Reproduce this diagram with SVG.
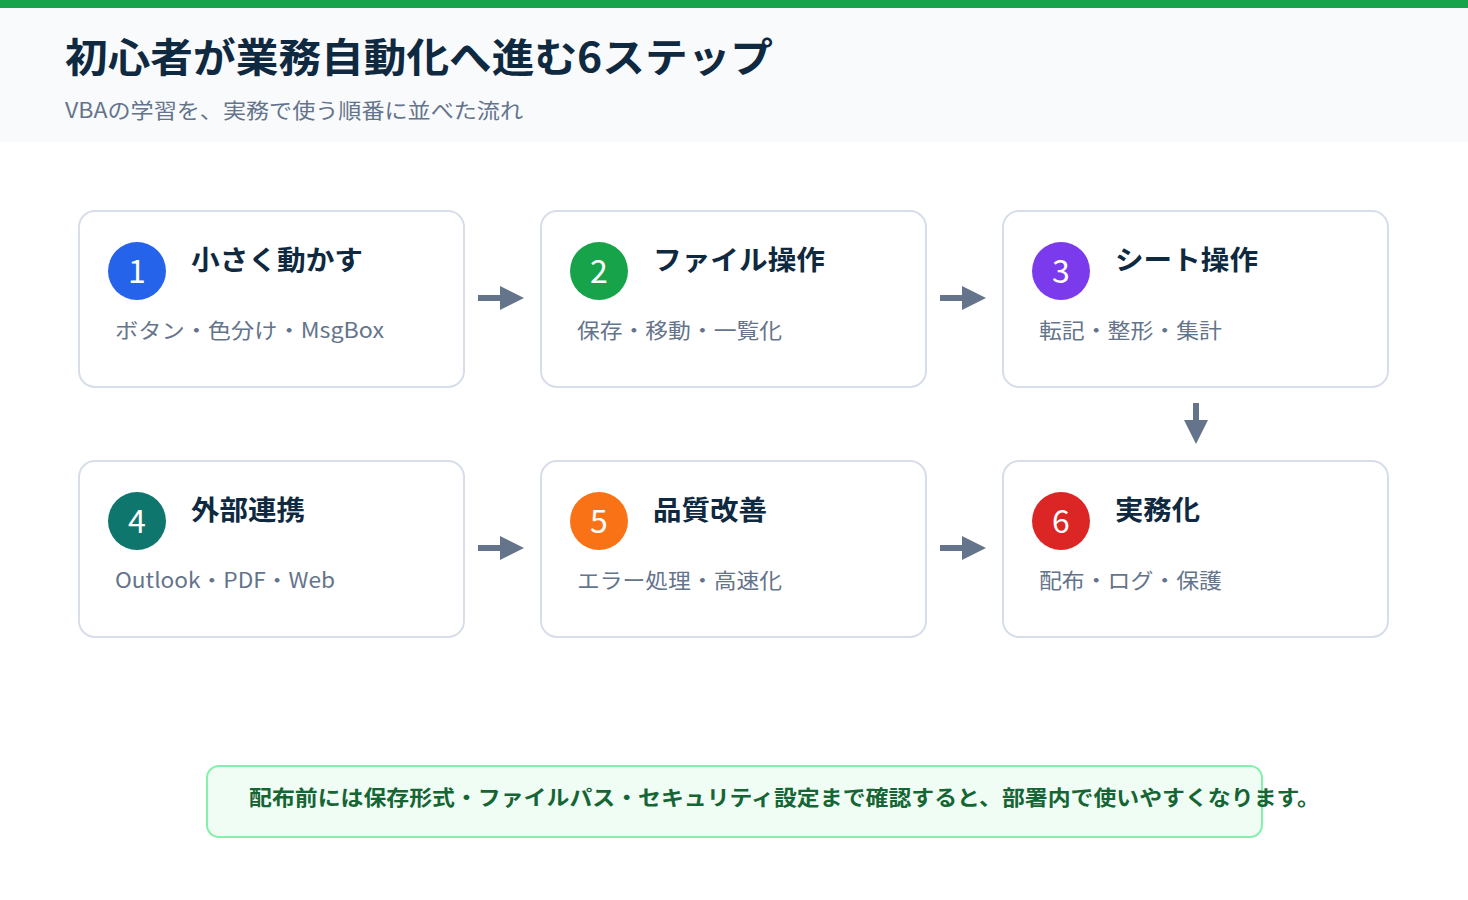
<svg xmlns="http://www.w3.org/2000/svg" width="1468" height="900" viewBox="0 0 1468 900">
<style>
text{font-family:"Noto Sans CJK JP","Noto Sans",sans-serif}
.box{fill:#fff;stroke:#d8dee9;stroke-width:2}
.t{font-size:27px;font-weight:700;fill:#0f2940}
.s{font-size:21px;fill:#64748b}
.n{font-size:32px;fill:#fff;text-anchor:middle}
.c{stroke:#64748b;stroke-width:6;fill:none}
</style>
<defs><marker id="a" markerWidth="4" markerHeight="4" refX="2" refY="2" orient="auto"><path d="M0,0L4,2L0,4z" fill="#64748b"/></marker></defs>
<rect width="1468" height="900" fill="#fff"/>
<rect width="1468" height="142" fill="#f8fafc"/>
<rect width="1468" height="8" fill="#16a34a"/>
<text x="65" y="72" font-size="40" font-weight="700" fill="#0f2940" textLength="708" lengthAdjust="spacingAndGlyphs">初心者が業務自動化へ進む6ステップ</text>
<text x="65" y="118" class="s" textLength="458" lengthAdjust="spacingAndGlyphs">VBAの学習を、実務で使う順番に並べた流れ</text>
<g id="connectors">
<path class="c" d="M478,298H512" marker-end="url(#a)"/>
<path class="c" d="M940,298H974" marker-end="url(#a)"/>
<path class="c" d="M1196,403V432" marker-end="url(#a)"/>
<path class="c" d="M478,548H512" marker-end="url(#a)"/>
<path class="c" d="M940,548H974" marker-end="url(#a)"/>
</g>
<g id="n1"><rect class="box" x="79" y="211" width="385" height="176" rx="16"/><circle cx="137" cy="271" r="29" fill="#2563eb"/><text class="n" x="137" y="283">1</text><text class="t" x="191" y="270" textLength="172" lengthAdjust="spacingAndGlyphs">小さく動かす</text><text class="s" x="115" y="338" textLength="269" lengthAdjust="spacingAndGlyphs">ボタン・色分け・MsgBox</text></g>
<g id="n2"><rect class="box" x="541" y="211" width="385" height="176" rx="16"/><circle cx="599" cy="271" r="29" fill="#16a34a"/><text class="n" x="599" y="283">2</text><text class="t" x="653" y="270" textLength="172" lengthAdjust="spacingAndGlyphs">ファイル操作</text><text class="s" x="577" y="338" textLength="205" lengthAdjust="spacingAndGlyphs">保存・移動・一覧化</text></g>
<g id="n3"><rect class="box" x="1003" y="211" width="385" height="176" rx="16"/><circle cx="1061" cy="271" r="29" fill="#7c3aed"/><text class="n" x="1061" y="283">3</text><text class="t" x="1115" y="270" textLength="143" lengthAdjust="spacingAndGlyphs">シート操作</text><text class="s" x="1039" y="338" textLength="183" lengthAdjust="spacingAndGlyphs">転記・整形・集計</text></g>
<g id="n4"><rect class="box" x="79" y="461" width="385" height="176" rx="16"/><circle cx="137" cy="521" r="29" fill="#0f766e"/><text class="n" x="137" y="533">4</text><text class="t" x="191" y="520" textLength="114" lengthAdjust="spacingAndGlyphs">外部連携</text><text class="s" x="115" y="588" textLength="220" lengthAdjust="spacingAndGlyphs">Outlook・PDF・Web</text></g>
<g id="n5"><rect class="box" x="541" y="461" width="385" height="176" rx="16"/><circle cx="599" cy="521" r="29" fill="#f97316"/><text class="n" x="599" y="533">5</text><text class="t" x="653" y="520" textLength="114" lengthAdjust="spacingAndGlyphs">品質改善</text><text class="s" x="577" y="588" textLength="205" lengthAdjust="spacingAndGlyphs">エラー処理・高速化</text></g>
<g id="n6"><rect class="box" x="1003" y="461" width="385" height="176" rx="16"/><circle cx="1061" cy="521" r="29" fill="#dc2626"/><text class="n" x="1061" y="533">6</text><text class="t" x="1115" y="520" textLength="85" lengthAdjust="spacingAndGlyphs">実務化</text><text class="s" x="1039" y="588" textLength="183" lengthAdjust="spacingAndGlyphs">配布・ログ・保護</text></g>
<g id="note"><rect x="207" y="766" width="1055" height="71" rx="12" fill="#f0fdf4" stroke="#86efac" stroke-width="2"/><text x="249" y="805" font-size="21" font-weight="700" fill="#166534" textLength="1071" lengthAdjust="spacingAndGlyphs">配布前には保存形式・ファイルパス・セキュリティ設定まで確認すると、部署内で使いやすくなります。</text></g>
</svg>
